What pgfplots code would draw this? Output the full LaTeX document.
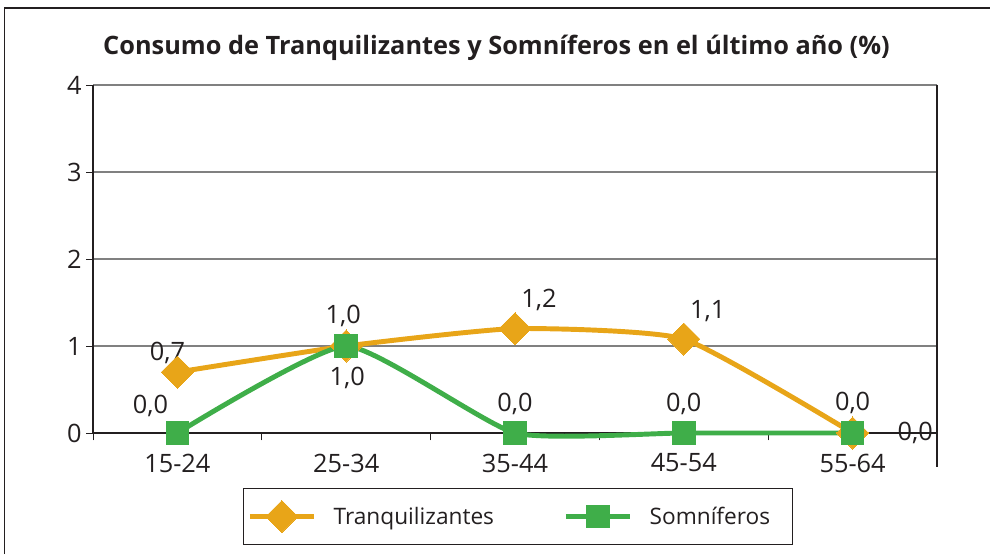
\documentclass[border=0pt]{standalone}
\usepackage{fontspec}
\setmainfont{Open Sans}
\usepackage{pgfplots}
\pgfplotsset{compat=1.18}
\definecolor{tq}{RGB}{232,165,24}
\definecolor{sm}{RGB}{63,174,73}
\definecolor{gridc}{RGB}{128,128,128}
\definecolor{txt}{RGB}{35,31,32}
\begin{document}
\begin{tikzpicture}[x=1pt,y=1pt]
\useasboundingbox (0,0) rectangle (742.5,415.5);
\draw[line width=0.8pt, txt] (3.5,0) -- (3.5,409.5) -- (742.5,409.5);
\node[font=\fontsize{19}{22}\selectfont\bfseries, anchor=base, text=txt] at (372.4,374.25) {Consumo de Tranquilizantes y Somníferos en el último año (\%)};
\begin{axis}[
  at={(69.75pt,90.75pt)}, anchor=south west,
  scale only axis, width=633pt, height=261pt,
  xmin=-0.5, xmax=4.5, ymin=0, ymax=4,
  xtick={0,1,2,3,4},
  xticklabels={15-24,25-34,35-44,45-54,55-64},
  minor xtick={-0.5,0.5,1.5,2.5,3.5,4.5},
  ytick={0,1,2,3,4},
  ymajorgrids, grid style={gridc, line width=0.8pt},
  axis line style={draw=none},
  tick align=outside, xtick pos=bottom, ytick pos=left,
  major tick length=5pt, minor tick length=5.5pt,
  major x tick style={draw=none},
  tick style={txt, line width=0.6pt},
  minor x tick style={txt, line width=0.6pt},
  tick label style={font=\fontsize{19}{22}\selectfont, text=txt},
  xticklabel style={yshift=-7pt},
  /pgf/number format/assume math mode=true,
  clip=false,
  legend columns=2,
  legend style={at={(0.1777,-0.24)}, anchor=west, draw=txt, line width=0.6pt,
    font=\fontsize{17}{20}\selectfont, text=txt, inner xsep=3pt, inner ysep=9pt,
    /tikz/every odd column/.append style={column sep=11pt},
    /tikz/every even column/.append style={column sep=50pt}},
  legend image code/.code={\draw[mark repeat=2,mark phase=2] plot coordinates {(0pt,0pt) (24pt,0pt) (48pt,0pt)};},
]
\draw[txt, line width=0.8pt] (rel axis cs:0,1) -- (rel axis cs:0,0);
\draw[txt, line width=0.8pt] (rel axis cs:0,0) -- (rel axis cs:1,0);
\draw[txt, line width=0.8pt] (rel axis cs:1,1) -- (rel axis cs:1,-0.098);
\addplot[tq, line width=3.7pt, smooth, tension=0.3, mark=square*, mark size=8.5pt, mark options={solid, line width=0pt, fill=tq, draw=tq, rotate=45}]
  coordinates {(0,0.7) (1,1.0) (2,1.2) (3,1.08) (4,0.0)};
\addlegendentry{Tranquilizantes}
\addplot[sm, line width=3.7pt, smooth, tension=0.3, mark=square*, mark size=8.5pt, mark options={solid, line width=0pt, fill=sm, draw=sm}]
  coordinates {(0,0.0) (1,1.0) (2,0.0) (3,0.0) (4,0.0)};
\addlegendentry{Somníferos\hspace*{12pt}\mbox{}}
\begin{scope}[every node/.style={font=\fontsize{19}{22}\selectfont, text=txt, inner sep=0pt}]
\node at (axis cs:0,0.7) [xshift=-7.5pt, yshift=14.5pt] {0,7};
\node at (axis cs:1,1.0) [xshift=-2.25pt, yshift=22.5pt] {1,0};
\node at (axis cs:2,1.2) [xshift=18pt, yshift=21.75pt] {1,2};
\node at (axis cs:3,1.08) [xshift=18pt, yshift=21pt] {1,1};
\node at (axis cs:4,0.0) [xshift=47pt, yshift=0pt] {0,0};
\node at (axis cs:0,0.0) [xshift=-20.25pt, yshift=20.25pt] {0,0};
\node at (axis cs:1,1.0) [xshift=0.75pt, yshift=-24pt] {1,0};
\node at (axis cs:2,0.0) [yshift=21.75pt] {0,0};
\node at (axis cs:3,0.0) [yshift=21.75pt] {0,0};
\node at (axis cs:4,0.0) [yshift=22.5pt] {0,0};
\end{scope}
\end{axis}
\end{tikzpicture}
\end{document}
